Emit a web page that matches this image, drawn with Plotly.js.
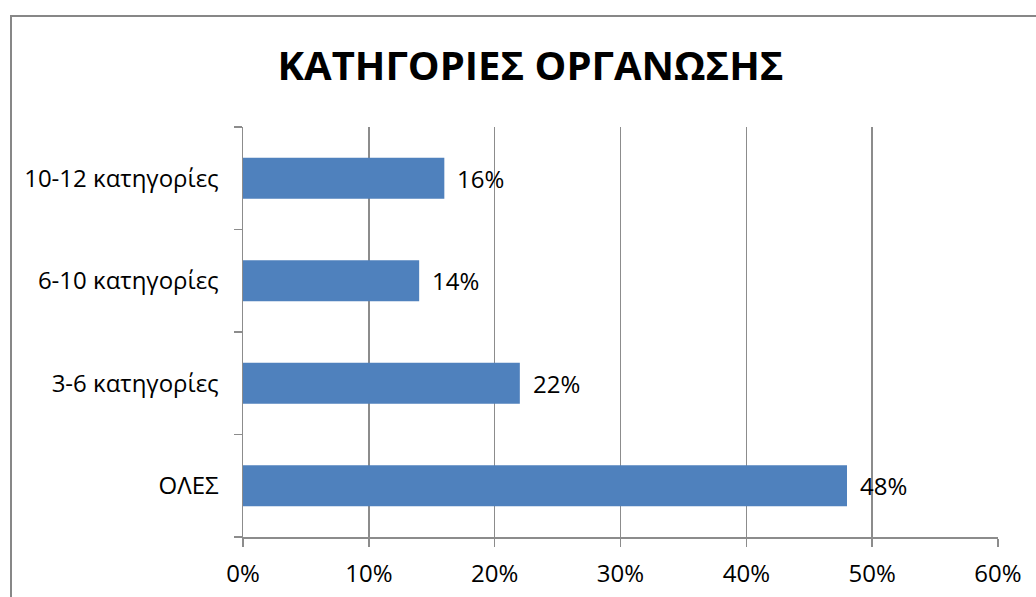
<!DOCTYPE html>
<html>
<head>
<meta charset="utf-8">
<script src="https://cdn.plot.ly/plotly-3.0.1.min.js"></script>
<style>
  html, body { margin: 0; padding: 0; background: #ffffff; overflow: hidden; }
  #chart { width: 1036px; height: 597px; position: absolute; left: 0; top: 0; }
  #frame { position: absolute; left: 10px; top: 15px; width: 1100px; height: 700px;
           border: 2px solid #878787; box-sizing: border-box; pointer-events: none; }
</style>
</head>
<body>
<div id="chart"></div>
<div id="frame"></div>
<script>
const chartTitle = "ΚΑΤΗΓΟΡΙΕΣ ΟΡΓΑΝΩΣΗΣ";
const categories = ["ΟΛΕΣ", "3-6 κατηγορίες", "6-10 κατηγορίες", "10-12 κατηγορίες"];
const shares = [0.48, 0.22, 0.14, 0.16];
const tickValues = [0, 0.1, 0.2, 0.3, 0.4, 0.5, 0.6];
const tickLabels = ["0%", "10%", "20%", "30%", "40%", "50%", "60%"];

const FONT = "'Open Sans', 'Noto Sans', sans-serif";
const GRID = "#8c8c8c";
const LABEL_SIZE = 24;

const trace = {
  type: "bar",
  orientation: "h",
  x: shares,
  y: categories,
  marker: { color: "#4F81BD" },
  hoverinfo: "none"
};

const annotations = categories.map((c, i) => ({
  x: shares[i],
  y: c,
  xref: "x",
  yref: "y",
  text: Math.round(shares[i] * 100) + "%",
  showarrow: false,
  xanchor: "left",
  yanchor: "middle",
  xshift: 11,
  yshift: 0,
  font: { family: FONT, size: LABEL_SIZE, color: "#000000" }
}));

const layout = {
  width: 1036,
  height: 597,
  margin: { l: 243, r: 38, t: 127, b: 60, pad: 0 },
  paper_bgcolor: "rgba(0,0,0,0)",
  plot_bgcolor: "rgba(0,0,0,0)",
  showlegend: false,
  bargap: 0.6,
  title: {
    text: "<b>" + chartTitle + "</b>",
    font: { family: FONT, size: 40, color: "#000000" },
    xref: "container", x: 530.5 / 1036, xanchor: "center",
    yref: "container", y: 1 - 66 / 597, yanchor: "middle"
  },
  xaxis: {
    range: [0, 0.6],
    tickvals: tickValues,
    ticktext: tickLabels,
    showgrid: true,
    gridcolor: GRID,
    gridwidth: 1.5,
    zeroline: false,
    showline: true,
    linecolor: GRID,
    linewidth: 1.5,
    ticks: "outside",
    ticklen: 8,
    tickwidth: 1.5,
    tickcolor: GRID,
    ticklabelstandoff: 7,
    tickfont: { family: FONT, size: LABEL_SIZE, color: "#000000" },
    fixedrange: true
  },
  yaxis: {
    type: "category",
    categoryorder: "array",
    categoryarray: categories,
    range: [-0.5, 3.5],
    showgrid: false,
    zeroline: false,
    showline: true,
    linecolor: GRID,
    linewidth: 1.5,
    ticks: "outside",
    tickson: "boundaries",
    ticklen: 8,
    tickwidth: 1.5,
    tickcolor: GRID,
    ticklabelstandoff: 18,
    tickfont: { family: FONT, size: LABEL_SIZE, color: "#000000" },
    fixedrange: true
  },
  annotations: annotations
};

Plotly.newPlot("chart", [trace], layout, { displayModeBar: false, staticPlot: true });
</script>
</body>
</html>
